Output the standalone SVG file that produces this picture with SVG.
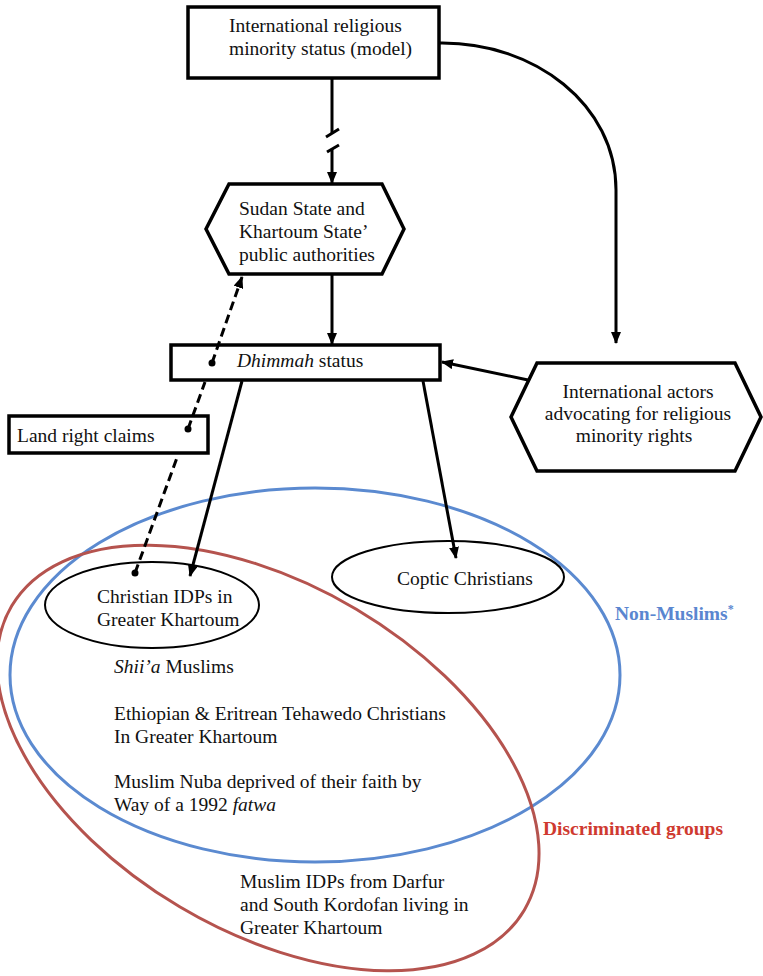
<svg xmlns="http://www.w3.org/2000/svg" width="763" height="976" viewBox="0 0 763 976">
<style>
  .t { font-family: "Liberation Serif", "Times New Roman", serif; font-size: 19.5px; fill: #111; }
  .box { fill: #fff; stroke: #000; stroke-width: 3.5; }
  .oval { fill: #fff; stroke: #000; stroke-width: 2; }
  .ln { fill: none; stroke: #000; stroke-width: 3; }
  .dash { fill: none; stroke: #000; stroke-width: 3; stroke-dasharray: 9 5; }
  .lbl { font-family: "Liberation Serif", "Times New Roman", serif; font-size: 19.5px; font-weight: bold; }
</style>
<defs>
  <marker id="ah" viewBox="0 0 12 10" refX="11" refY="5" markerWidth="12" markerHeight="10" markerUnits="userSpaceOnUse" orient="auto">
    <path d="M0,0 L12,5 L0,10 z" fill="#000"/>
  </marker>
</defs>
<rect width="763" height="976" fill="#fff"/>

<g id="non-muslims">
  <ellipse cx="315" cy="675" rx="305" ry="187" fill="none" stroke="#5b8ad0" stroke-width="3"/>
  <text class="lbl" x="615" y="620" fill="#5a86d0">Non-Muslims<tspan font-size="12" dy="-7">*</tspan></text>
</g>
<g id="discriminated">
  <ellipse cx="268" cy="758" rx="298" ry="173" transform="rotate(30.7 268 758)" fill="none" stroke="#b5534e" stroke-width="3"/>
  <text class="lbl" x="543" y="835" fill="#cf3a30">Discriminated groups</text>
</g>

<g id="christian-idps">
  <ellipse class="oval" cx="152" cy="605" rx="107" ry="43"/>
  <text class="t" x="97" y="603">Christian IDPs in</text>
  <text class="t" x="97" y="626">Greater Khartoum</text>
</g>
<g id="coptic">
  <ellipse class="oval" cx="448" cy="577" rx="116" ry="36"/>
  <text class="t" x="397" y="585">Coptic Christians</text>
</g>
<g id="inner-texts">
  <text class="t" x="114" y="673"><tspan font-style="italic">Shii’a</tspan> Muslims</text>
  <text class="t" x="114" y="720">Ethiopian &amp; Eritrean Tehawedo Christians</text>
  <text class="t" x="114" y="743">In Greater Khartoum</text>
  <text class="t" x="114" y="788">Muslim Nuba deprived of their faith by</text>
  <text class="t" x="114" y="811">Way of a 1992 <tspan font-style="italic">fatwa</tspan></text>
  <text class="t" x="240" y="888">Muslim IDPs from Darfur</text>
  <text class="t" x="240" y="911">and South Kordofan living in</text>
  <text class="t" x="240" y="934">Greater Khartoum</text>
</g>

<g id="model">
  <rect class="box" x="188" y="7" width="251" height="71"/>
  <text class="t" x="229" y="32">International religious</text>
  <text class="t" x="229" y="55">minority status (model)</text>
</g>
<g id="authorities">
  <polygon class="box" points="229,184 382,184 404,229 382,274 229,274 206,229"/>
  <text class="t" x="239" y="215">Sudan State and</text>
  <text class="t" x="239" y="238">Khartoum State’</text>
  <text class="t" x="239" y="261">public authorities</text>
</g>
<g id="dhimmah">
  <rect class="box" x="171" y="345" width="269" height="35"/>
  <text class="t" x="237" y="367"><tspan font-style="italic">Dhimmah</tspan> status</text>
</g>
<g id="land">
  <rect class="box" x="9" y="416" width="199" height="37"/>
  <text class="t" x="17" y="442">Land right claims</text>
</g>
<g id="intl-actors">
  <polygon class="box" points="537,363 735,363 761,417 735,471 537,471 511,417"/>
  <text class="t" x="638" y="398" text-anchor="middle">International actors</text>
  <text class="t" x="638" y="420" text-anchor="middle">advocating for religious</text>
  <text class="t" x="634" y="442" text-anchor="middle">minority rights</text>
</g>

<g id="connectors">
  <line class="ln" x1="332" y1="79" x2="332" y2="134"/>
  <line class="ln" x1="326" y1="137" x2="339" y2="129"/>
  <line class="ln" x1="327" y1="152" x2="339" y2="145"/>
  <line class="ln" x1="332" y1="149" x2="332" y2="183" marker-end="url(#ah)"/>
  <line class="ln" x1="332" y1="275" x2="332" y2="344" marker-end="url(#ah)"/>
  <path class="ln" d="M440,43 C535,42 616,105 616,190 L616,343" marker-end="url(#ah)"/>
  <line class="ln" x1="528" y1="380" x2="442" y2="362" marker-end="url(#ah)"/>
  <line class="ln" x1="242" y1="381" x2="190" y2="576" marker-end="url(#ah)"/>
  <line class="ln" x1="423" y1="381" x2="456" y2="558" marker-end="url(#ah)"/>
  <line class="dash" x1="135" y1="573" x2="178" y2="455"/>
  <line class="dash" x1="188" y1="429" x2="205" y2="382"/>
  <line class="dash" x1="212" y1="363" x2="242" y2="277" marker-end="url(#ah)"/>
  <circle cx="135" cy="573" r="3.5" fill="#000"/>
  <circle cx="188" cy="429" r="3.5" fill="#000"/>
  <circle cx="212" cy="363" r="3.5" fill="#000"/>
</g>
</svg>
